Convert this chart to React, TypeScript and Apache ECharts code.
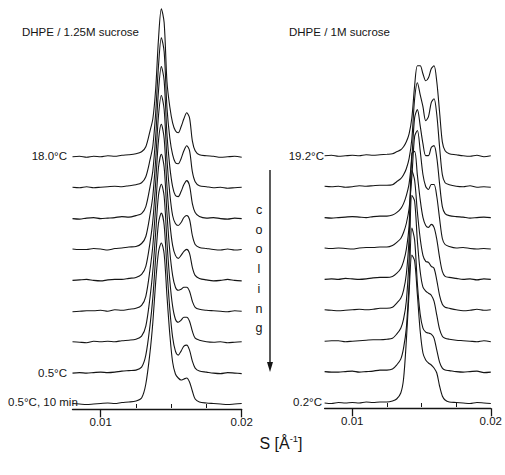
import React, { useEffect, useRef } from "react";
import * as echarts from "echarts";

// Shared scattering-vector grid S [1/Å]
const S = [
  0.008, 0.0085, 0.009, 0.0095, 0.01, 0.0105, 0.011, 0.0115, 0.012, 0.0125,
  0.0129, 0.0132, 0.0135, 0.0137, 0.0139, 0.0141, 0.0143, 0.0145, 0.0147, 0.0149,
  0.0151, 0.0153, 0.0155, 0.0157, 0.0159, 0.0161, 0.0163, 0.0165, 0.0167, 0.017,
  0.0175, 0.018, 0.0185, 0.019, 0.0195, 0.02,
];

// Left panel: DHPE / 1.25M sucrose, top (18.0°C) to bottom (0.5°C, 10 min)
const L1 = [0, 0.5, -0.5, 0.5, 0, 1, 0.5, 1.5, 2, 3, 5, 10, 26, 38, 68, 118, 148, 134, 75, 50, 34, 26, 24, 30, 38, 44, 39, 16, 6, 2, 1, 0.5, -0.5, 0, 0.5, -0.5];
const L2 = [0.5, 0, 1, 0, 0.5, 1, 1.5, 1, 2, 3, 5, 11, 28, 42, 75, 122, 150, 136, 80, 50, 33, 25, 24, 29, 37, 42, 37, 16, 6, 2, 1, 0, 0.5, -0.5, 0, 0.5];
const L3 = [0, -0.5, 0.5, 1, 0, 0.5, 1, 2, 1.5, 3, 5, 12, 32, 48, 82, 128, 152, 138, 84, 52, 32, 23, 22, 27, 34, 38, 33, 15, 6, 2, 0.5, 1, 0, -0.5, 0.5, 0];
const L4 = [0.5, 0, 0, 1, 0.5, -0.5, 1, 1.5, 2.5, 3, 6, 13, 35, 54, 90, 134, 154, 140, 90, 56, 34, 26, 24, 27, 32, 34, 30, 14, 5, 2, 1, 0, -0.5, 0.5, -0.5, 0];
const L5 = [0, 0.5, 1, 0, -0.5, 0.5, 1, 1, 2, 3, 6, 14, 38, 60, 98, 140, 156, 142, 94, 58, 35, 25, 22, 25, 29, 31, 27, 13, 5, 2, 0.5, -0.5, 0, 1, 0, -0.5];
const L6 = [-0.5, 0, 0.5, 0.5, 1, 0, 1.5, 1, 2, 3, 6, 15, 42, 66, 105, 144, 157, 144, 98, 60, 36, 24, 21, 22, 24, 24, 20, 10, 4, 2, 1, 0.5, 0, -0.5, 0.5, 0];
const L7 = [0.5, 0, -0.5, 1, 0.5, 1, 0.5, 1.5, 2, 3, 6, 16, 45, 72, 110, 147, 158, 146, 100, 62, 36, 23, 20, 22, 25, 25, 21, 11, 4, 2, 0.5, 0, 0.5, -0.5, 0, 0.5];
const L8 = [0, 0.5, 0, 0.5, 1, 0.5, 1, 2, 2.5, 3, 6, 18, 48, 76, 116, 150, 160, 148, 104, 64, 36, 22, 18, 22, 27, 28, 23, 12, 5, 2, 1, 0, -0.5, 0.5, 0, -0.5];
const L9 = [0.5, 0, -0.5, 0, 0.5, 1, 0.5, 1.5, 2, 3, 6, 20, 52, 82, 122, 152, 161, 150, 108, 70, 42, 30, 26, 24, 25, 26, 22, 13, 5, 2, 1, 0.5, 0, -0.5, 0, 0.5];
const LEFT_CURVES = [L1, L2, L3, L4, L5, L6, L7, L8, L9];

// Right panel: DHPE / 1M sucrose, top (19.2°C) to bottom (0.2°C)
const R1 = [0, 0.5, -0.5, 0, 0.5, 0, 1, 0.5, 1, 1.5, 2, 4, 6, 9, 14, 22, 38, 70, 90, 90, 82, 75, 78, 87, 90, 74, 44, 14, 5, 2, 1, 0, -0.5, 0.5, -1, 0];
const R2 = [0.5, 0, 0.5, -0.5, 0, 1, 0.5, 1, 1.5, 1.5, 2, 5, 8, 12, 18, 28, 48, 88, 104, 92, 80, 66, 70, 84, 88, 72, 40, 12, 4, 2, 0.5, 0, 1, -0.5, 0, -0.5];
const R3 = [0, -0.5, 0, 0.5, 1, 0.5, 0, 1, 1.5, 1.5, 2.5, 5, 9, 14, 22, 34, 60, 100, 108, 92, 74, 62, 62, 70, 72, 60, 34, 11, 4, 2, 1, 0.5, -0.5, 0, 0.5, 0];
const R4 = [0.5, 0, 0.5, 0, -0.5, 0.5, 1, 1, 1.5, 1.5, 3, 6, 10, 16, 25, 40, 72, 112, 118, 98, 74, 62, 59, 64, 64, 52, 30, 10, 4, 2, 0.5, 1, 0, -0.5, 0, -0.5];
const R5 = [0, 0.5, 0, 1, 0.5, 0, 0.5, 1.5, 2, 2, 3, 6, 11, 18, 30, 54, 126, 128, 104, 80, 62, 54, 52, 55, 52, 40, 22, 8, 3, 2, 1, 0, 0.5, -0.5, 0.5, 0];
const R6 = [0.5, 0, -0.5, 0, 0.5, 1, 0.5, 1, 2, 2, 3, 7, 12, 20, 36, 72, 140, 130, 98, 72, 55, 49, 48, 44, 42, 30, 15, 6, 3, 2, 0.5, -0.5, 0, 1, 0, 0.5];
const R7 = [0, 0.5, 0.5, -0.5, 0, 0.5, 1, 1.5, 1.5, 2, 3, 7, 13, 22, 40, 82, 146, 140, 100, 70, 54, 50, 48, 46, 40, 26, 12, 5, 3, 2, 1, 0.5, 0, -0.5, 0.5, -0.5];
const R8 = [0.5, 0, 0, 0.5, 1, 0, 0.5, 1, 2, 2, 3, 7, 13, 24, 44, 88, 144, 132, 88, 58, 44, 40, 39, 38, 34, 22, 10, 4, 2, 1.5, 0.5, 0, 0.5, 1, -0.5, 0];
const R9 = [0, -0.5, 0.5, 0, 0.5, 0, 1, 0.5, 1, 1, 2, 4, 10, 24, 62, 110, 148, 142, 108, 72, 50, 43, 40, 38, 35, 30, 17, 7, 3, 1, 0.5, 0, -0.5, 0.5, 0, -0.5];
const RIGHT_CURVES = [R1, R2, R3, R4, R5, R6, R7, R8, R9];

const X_MAJOR = [0.01, 0.02];
const X_MINOR = [0.0125, 0.015, 0.0175];
const COOLING = ["c", "o", "o", "l", "i", "n", "g"];
const STEP = 30.9;

const FONT = '"Liberation Sans", Arial, Helvetica, sans-serif';
const INK = "#151515";

function axisPair(grid: number) {
  const base = {
    gridIndex: grid,
    type: "value",
    min: 0.008,
    max: 0.02,
    position: "bottom",
    splitLine: { show: false },
  };
  return [
    {
      ...base,
      axisLine: { show: true, onZero: false, lineStyle: { color: INK, width: 1.3 } },
      axisTick: { show: true, customValues: X_MAJOR, length: 8, inside: false, lineStyle: { color: INK, width: 1.3 } },
      axisLabel: {
        show: true,
        customValues: X_MAJOR,
        margin: 7,
        color: INK,
        fontSize: 11.5,
        fontFamily: FONT,
        formatter: (v: number) => String(Number(v.toFixed(3))),
      },
    },
    {
      ...base,
      axisLine: { show: false },
      axisTick: { show: true, customValues: X_MINOR, length: 4, inside: false, lineStyle: { color: INK, width: 1 } },
      axisLabel: { show: false },
    },
  ];
}

function textEl(text: string, x: number, y: number, align: string, size = 11.5) {
  return {
    type: "text",
    x,
    y,
    silent: true,
    style: {
      text,
      fill: INK,
      font: `${size}px ${FONT}`,
      textAlign: align,
      textVerticalAlign: "middle",
    },
  };
}

export default function App() {
  const ref = useRef<HTMLDivElement>(null);

  useEffect(() => {
    if (!ref.current) return;
    const chart = echarts.init(ref.current, null, { renderer: "svg" });

    const series: any[] = [];
    LEFT_CURVES.forEach((vals, i) => {
      const off = (LEFT_CURVES.length - 1 - i) * STEP;
      series.push({
        type: "line",
        xAxisIndex: 0,
        yAxisIndex: 0,
        data: S.map((s, j) => [s, vals[j] + off]),
        showSymbol: false,
        smooth: 0.3,
        lineStyle: { color: INK, width: 1.1 },
        silent: true,
        z: 2 + i,
      });
    });
    RIGHT_CURVES.forEach((vals, i) => {
      const off = (RIGHT_CURVES.length - 1 - i) * STEP;
      series.push({
        type: "line",
        xAxisIndex: 2,
        yAxisIndex: 1,
        data: S.map((s, j) => [s, vals[j] + off]),
        showSymbol: false,
        smooth: 0.3,
        lineStyle: { color: INK, width: 1.1 },
        silent: true,
        z: 2 + i,
      });
    });

    const graphics: any[] = [
      textEl("DHPE / 1.25M sucrose", 22, 32, "left"),
      textEl("DHPE / 1M sucrose", 289, 32, "left"),
      textEl("18.0°C", 67, 156, "right"),
      textEl("0.5°C", 67, 373, "right"),
      textEl("0.5°C, 10 min", 8, 402, "left"),
      textEl("19.2°C", 324, 156, "right"),
      textEl("0.2°C", 322, 402, "right"),
      ...COOLING.map((c, i) => textEl(c, 259, 210 + i * 19.7, "center", 12.5)),
      {
        type: "line",
        silent: true,
        shape: { x1: 270, y1: 170, x2: 270, y2: 364 },
        style: { stroke: INK, lineWidth: 1.4 },
      },
      {
        type: "polygon",
        silent: true,
        shape: { points: [[267, 362], [273, 362], [270, 372]] },
        style: { fill: INK },
      },
      {
        type: "text",
        x: 281,
        y: 443,
        silent: true,
        style: {
          text: "S [Å{sup|-1}]",
          fill: INK,
          font: `16px ${FONT}`,
          textAlign: "center",
          textVerticalAlign: "middle",
          lineHeight: 19,
          rich: {
            sup: { fontSize: 9.5, fontFamily: FONT, fill: INK, verticalAlign: "top", lineHeight: 19 },
          },
        },
      },
    ];

    chart.setOption({
      animation: false,
      backgroundColor: "#ffffff",
      grid: [
        { left: 72.5, right: 263.3, top: 0, bottom: 65.7 },
        { left: 324.6, right: 11.7, top: 0, bottom: 66.7 },
      ],
      xAxis: [...axisPair(0), ...axisPair(1)],
      yAxis: [
        { gridIndex: 0, type: "value", min: -5.3, max: 404, show: false },
        { gridIndex: 1, type: "value", min: -5.3, max: 403, show: false },
      ],
      series,
      graphic: graphics,
    });

    return () => chart.dispose();
  }, []);

  return (
    <div
      ref={ref}
      style={{ position: "absolute", left: 0, top: 0, width: 505, height: 475, background: "#fff" }}
    />
  );
}
